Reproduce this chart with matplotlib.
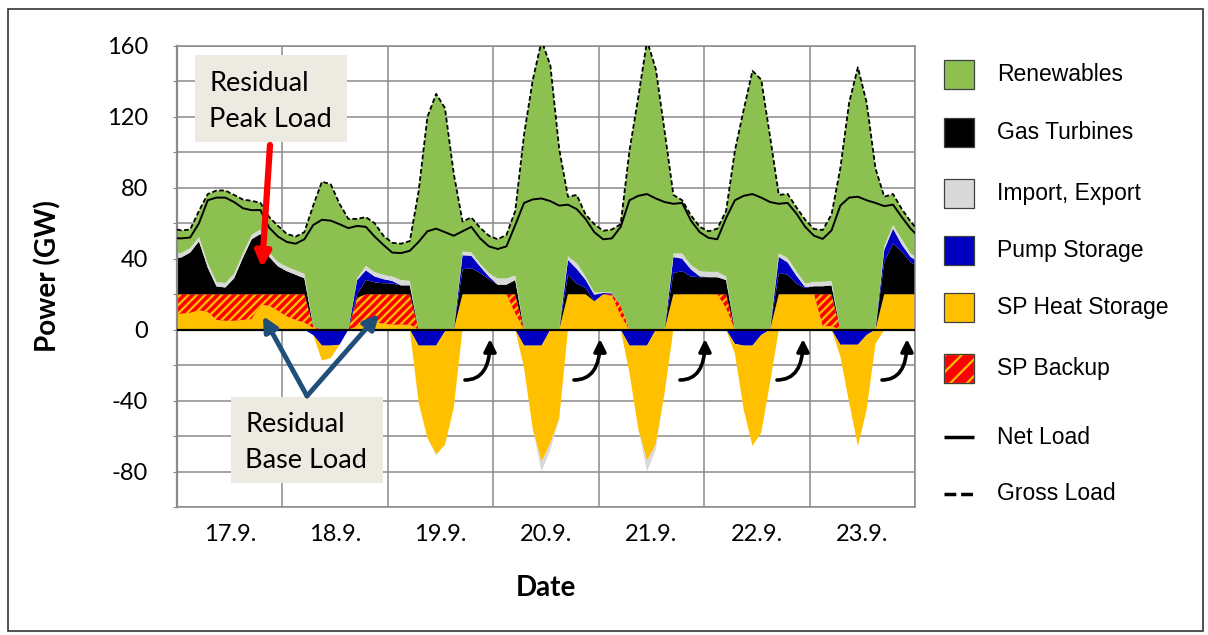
import numpy as np
import matplotlib
matplotlib.use("Agg")
import matplotlib.pyplot as plt
from matplotlib.patches import Rectangle, FancyArrowPatch
from matplotlib.lines import Line2D

plt.rcParams["hatch.linewidth"] = 1.6
plt.rcParams["hatch.color"] = "#FFC000"

W, H = 1208, 635

# ---------------------------------------------------------------- data
day_labels = ["17.9.", "18.9.", "19.9.", "20.9.", "21.9.", "22.9.", "23.9."]

# sample times in hours from 17.9. 00:00 (odd hours plus both ends)
hours = [0] + list(range(1, 168, 2)) + [168]

gross_load = [56.5,
    56, 56.5, 67, 76.5, 78.5, 78.5, 76, 73.4, 72.7, 71.5, 63.5, 58.5,
    54, 52.5, 55, 70, 83.5, 82, 71, 62.5, 62.5, 63.5, 60, 53,
    49, 48.5, 50, 78, 120, 133, 125, 88, 61, 63.3, 57.5, 53,
    51, 53.5, 67, 110, 141, 163, 149, 102, 75, 76, 65, 59.5,
    55.8, 56.5, 59.5, 101, 131, 163, 147, 112, 76, 73, 64.5, 58,
    55.5, 57, 67, 101, 124, 146, 141, 109, 76, 76.6, 69, 62,
    56.8, 56.2, 65, 91, 128, 148, 128, 91, 75, 76.5, 68, 61,
    58]

net_load = [51.6,
    51.5, 52, 60, 73, 74.5, 74.5, 72, 68.5, 67.4, 67.5, 57.5, 52.5,
    49.5, 48.5, 51, 59, 62, 61.5, 59.5, 57.3, 58.5, 58, 52.5, 47.8,
    43.5, 43.2, 44.5, 49.5, 55.5, 57, 55, 53, 55.5, 58, 51.5, 47,
    45.5, 47, 59, 71.5, 73.5, 74, 72.5, 70, 70.5, 68, 62.5, 55,
    51, 51.5, 58, 73, 75.5, 76.5, 74, 72, 71, 71.5, 61.5, 55,
    51.8, 51, 63, 73, 75.5, 76.5, 74.5, 72, 71, 71.5, 65.5, 58,
    53, 51.2, 56, 70, 74.5, 75, 73, 71.5, 69.7, 70.5, 63.5, 57,
    54.5]

# generation side (GW, >= 0)
heat_storage_out = [9,
    9, 9.5, 11, 10, 5.5, 5, 5, 5.5, 6, 14, 13.5, 10.7,
    7.5, 5.5, 4, 1, 0, 0, 0, 0, 2, 3.5, 4, 3.5,
    2.8, 2.8, 2.8, 0, 0, 0, 0, 0, 20, 20, 20, 20,
    20, 20, 9, 0, 0, 0, 0, 0, 20, 20, 20, 16,
    20, 19, 7.7, 0, 0, 0, 0, 0, 20, 20, 20, 20,
    20, 20, 12, 0, 0, 0, 0, 0, 20, 20, 20, 20,
    20, 2, 2, 0, 0, 0, 0, 0, 20, 20, 20, 20,
    20]

sp_backup = [11,
    11, 10.5, 9, 10, 14.5, 15, 15, 14.5, 14, 6, 6.5, 9.3,
    12.5, 14.5, 16, 1, 0, 0, 0, 0, 16, 16.5, 16, 16.5,
    17.2, 17.2, 17.2, 0, 0, 0, 0, 0, 0, 0, 0, 0,
    0, 0, 11, 0, 0, 0, 0, 0, 0, 0, 0, 0,
    0, 1, 6.2, 0, 0, 0, 0, 0, 0, 0, 0, 0,
    0, 0, 8, 0, 0, 0, 0, 0, 0, 0, 0, 0,
    0, 18, 18, 0, 0, 0, 0, 0, 0, 0, 0, 0,
    0]

gas_turbines = [20.4,
    20.8, 23.5, 29.8, 15, 4.4, 3.8, 9, 20.5, 31, 34, 21, 15.7,
    13, 11, 9, 0, 0, 0, 0, 0, 2, 8, 6.7, 6.2,
    6, 5, 5, 0, 0, 0, 0, 0, 14, 14.7, 12, 8.5,
    5.4, 5.4, 8, 0, 0, 0, 0, 0, 11, 6, 3.5, 0,
    0, 0, 0, 0, 0, 0, 0, 0, 12, 13, 10, 9.6,
    9.6, 9.6, 8, 0, 0, 0, 0, 0, 12, 11, 6, 3.5,
    4.5, 4.5, 5, 0, 0, 0, 0, 0, 18, 28.5, 24, 18,
    16.6]

pump_out = [0,
    0, 0, 0, 0, 0, 0, 0, 0, 0, 0, 0, 0,
    0, 0, 0, 0, 0, 0, 0, 0, 8, 5.5, 3.3, 2.3,
    1.5, 0, 0, 0, 0, 0, 0, 0, 8, 7, 3.7, 1.5,
    0, 0, 0, 0, 0, 0, 0, 0, 8.4, 8.3, 4.7, 3.7,
    0.7, 0.5, 0, 0, 0, 0, 0, 0, 9, 7, 4, 0.5,
    0, 0, 0, 0, 0, 0, 0, 0, 9, 7, 4.5, 0.5,
    0, 0, 0, 0, 0, 0, 0, 0, 7, 8.5, 4, 3,
    2.8]

imports = [2.5,
    2.5, 2.5, 2.5, 2.5, 2.5, 2.5, 2.5, 2.5, 2.5, 2.5, 2.5, 2.5,
    2.5, 2.5, 2.5, 0, 0, 0, 0, 0, 1, 2.5, 2.5, 2.5,
    2.5, 3, 2.5, 0, 0, 0, 0, 0, 2, 2, 1.5, 2,
    3.5, 3.5, 2.5, 0, 0, 0, 0, 0, 2, 3.3, 1.8, 1.3,
    0.5, 0.5, 0, 0, 0, 0, 0, 0, 2, 3, 2.5, 3,
    3, 3, 2, 0, 0, 0, 0, 0, 2, 2.5, 2.5, 2,
    2.5, 2.5, 2.5, 0, 0, 0, 0, 0, 2, 2, 3, 2,
    2]

# consumption side (GW, <= 0)
pump_in = [0,
    0, 0, 0, 0, 0, 0, 0, 0, 0, 0, 0, 0,
    0, 0, 0, -3, -9, -9, -8.5, 0, 0, 0, 0, 0,
    0, 0, 0, -9, -9, -9, -1, 0, 0, 0, 0, 0,
    0, 0, 0, -9, -9, -9, 0, 0, 0, 0, 0, 0,
    0, 0, 0, -9, -9, -9, 0, 0, 0, 0, 0, 0,
    0, 0, 0, -8, -9, -9, -3, 0, 0, 0, 0, 0,
    0, 0, 0, -8.5, -8.5, -8.5, -3, 0, 0, 0, 0, 0,
    0]

heat_storage_in = [0,
    0, 0, 0, 0, 0, 0, 0, 0, 0, 0, 0, 0,
    0, 0, 0, 0, -8.4, -7, 0, 0, 0, 0, 0, 0,
    0, 0, 0, -32, -52, -61.4, -64, -44, 0, 0, 0, 0,
    0, 0, 0, -12.6, -47.3, -65.6, -64, -50.2, 0, 0, 0, 0,
    0, 0, 0, -15.4, -47, -65, -64.6, -35.7, 0, 0, 0, 0,
    0, 0, 0, -5.5, -36, -56.6, -55, -30, 0, 0, 0, 0,
    0, 0, 0, -6.5, -32.5, -57.2, -42, -8, 0, 0, 0, 0,
    0]

exports = [0,
    0, 0, 0, 0, 0, 0, 0, 0, 0, 0, 0, 0,
    0, 0, 0, 0, 0, 0, 0, 0, 0, 0, 0, 0,
    0, 0, 0, 0, 0, -0.5, 0, 0, 0, 0, 0, 0,
    0, 0, 0, 0, 0, -5.4, -3.6, -0.5, 0, 0, 0, 0,
    0, 0, 0, 0, 0, -6, -3, 0, 0, 0, 0, 0,
    0, 0, 0, 0, 0, 0, 0, 0, 0, 0, 0, 0,
    0, 0, 0, 0, 0, 0, 0, 0, 0, 0, 0, 0,
    0]

legend_labels = ["Renewables", "Gas Turbines", "Import, Export", "Pump Storage",
                 "SP Heat Storage", "SP Backup", "Net Load", "Gross Load"]

# ---------------------------------------------------------------- style
GREEN = "#8CC152"
BLACK = "#000000"
GREY = "#D9D9D9"
BLUE = "#0000C0"
ORANGE = "#FFC000"
RED = "#FF0000"
GRID = "#8A8A8A"
BOXFILL = "#EDEAE2"
NAVY = "#1F4E79"
CHART_FONT = ["Lato", "DejaVu Sans"]
LEGEND_FONT = ["Liberation Sans", "DejaVu Sans"]

fill_styles = {
    "SP Heat Storage": dict(facecolor=ORANGE),
    "SP Backup": dict(facecolor=RED, edgecolor=ORANGE, hatch="////"),
    "Gas Turbines": dict(facecolor=BLACK),
    "Pump Storage": dict(facecolor=BLUE),
    "Import, Export": dict(facecolor=GREY),
    "Renewables": dict(facecolor=GREEN),
}

fig = plt.figure(figsize=(W / 100, H / 100), dpi=100)
ax = fig.add_axes([177 / W, 1 - 507 / H, (915 - 177) / W, (507 - 46) / H])

t = np.array(hours, dtype=float)

# positive stack
base = np.zeros_like(t)
for name, vals in [("SP Heat Storage", heat_storage_out), ("SP Backup", sp_backup),
                   ("Gas Turbines", gas_turbines), ("Pump Storage", pump_out),
                   ("Import, Export", imports)]:
    top = base + np.array(vals, dtype=float)
    ax.fill_between(t, base, top, linewidth=0, zorder=2, **fill_styles[name])
    base = top
ax.fill_between(t, base, np.array(gross_load, dtype=float), linewidth=0, zorder=2,
                **fill_styles["Renewables"])

# negative stack
base = np.zeros_like(t)
for name, vals in [("Pump Storage", pump_in), ("SP Heat Storage", heat_storage_in),
                   ("Import, Export", exports)]:
    bottom = base + np.array(vals, dtype=float)
    ax.fill_between(t, bottom, base, linewidth=0, zorder=2, **fill_styles[name])
    base = bottom

ax.axhline(0, color="black", lw=1.6, zorder=3)
ax.plot(t, net_load, color="black", lw=1.4, zorder=4)
ax.plot(t, gross_load, color="black", lw=1.3, ls=(0, (2.6, 1.4)), zorder=4)

# axes
ax.set_xlim(0, 168)
ax.set_ylim(-100, 160)
yt = list(range(-100, 161, 20))
ax.set_yticks(yt)
ax.set_yticklabels([str(v) if v % 40 == 0 else "" for v in yt],
                   fontfamily=CHART_FONT, fontsize=17)
ax.set_xticks(np.arange(12, 168, 24))
ax.set_xticklabels(day_labels, fontfamily=CHART_FONT, fontsize=17)
ax.set_xticks(np.arange(0, 169, 24), minor=True)
ax.tick_params(axis="x", which="both", length=0, pad=12)
ax.tick_params(axis="y", which="both", direction="out", length=3, color=GRID, pad=18)
ax.set_axisbelow(True)
ax.grid(True, axis="y", which="major", color=GRID, lw=1.1)
ax.grid(True, axis="x", which="minor", color=GRID, lw=1.1)
for side, sp in ax.spines.items():
    sp.set_color(GRID)
    sp.set_linewidth(1.1)
ax.spines["left"].set_linewidth(1.6)

ax.set_ylabel("Power (GW)", fontfamily=CHART_FONT, fontsize=20, fontweight="bold")
ax.yaxis.set_label_coords(-(177 - 61) / (915 - 177), 0.5)
fig.text(546 / W, 1 - 588 / H, "Date", fontfamily=CHART_FONT, fontsize=20,
         fontweight="bold", ha="center", va="center")

# outer frame
fig.add_artist(Rectangle((8 / W, 1 - 631 / H), (1203 - 8) / W, (631 - 9) / H,
                         transform=fig.transFigure, fill=False, ec="#333333", lw=1.2))


def px(x, y):
    return (x, H - y)


# annotation boxes
for (x0, y0, x1, y1), txt in [((195, 55, 347, 142), "Residual\nPeak Load"),
                              ((231, 397, 383, 483), "Residual\nBase Load")]:
    fig.add_artist(Rectangle((x0 / W, 1 - y1 / H), (x1 - x0) / W, (y1 - y0) / H,
                             transform=fig.transFigure, fc=BOXFILL, ec="none", zorder=5))
    fig.text((x0 + 14) / W, 1 - ((y0 + y1) / 2 + 3) / H, txt, fontfamily=CHART_FONT,
             fontsize=19.5, ha="left", va="center", linespacing=1.55, zorder=6)

arrow_specs = [
    ((270, 145), (262, 268), RED, 4.5, 22),
    ((307, 396), (263, 316), NAVY, 3.5, 22),
    ((307, 396), (379, 314), NAVY, 3.5, 22),
]
for (x0, y0), (x1, y1), col, lw, ms in arrow_specs:
    fig.add_artist(FancyArrowPatch(px(x0, y0), px(x1, y1), transform=None,
                                   arrowstyle="-|>", color=col, lw=lw,
                                   mutation_scale=ms, zorder=6,
                                   shrinkA=0, shrinkB=0))

# curved arrows: heat stored at noon is released in the evening
for xt, xh in [(465, 490), (574, 600), (680, 705), (777, 803), (882, 907)]:
    fig.add_artist(FancyArrowPatch(px(xt, 380), px(xh, 339), transform=None,
                                   arrowstyle="-|>", color="black", lw=2.6,
                                   mutation_scale=18, zorder=6,
                                   connectionstyle="angle3,angleA=0,angleB=90",
                                   shrinkA=0, shrinkB=0))

# legend
legend_rows = [74.5, 132.5, 193.5, 250.5, 307.5, 368.5, 437, 494]
patch_styles = [fill_styles[n] for n in legend_labels[:6]]
for i, (label, yc) in enumerate(zip(legend_labels, legend_rows)):
    if i < 6:
        st = dict(patch_styles[i])
        st.setdefault("edgecolor", "#404040")
        if "hatch" in st:
            st["hatch"] = "//"
        fig.add_artist(Rectangle((944 / W, 1 - (yc + 14.5) / H), 30 / W, 29 / H,
                                 transform=fig.transFigure, lw=0.9, **st))
        if "hatch" in st:
            fig.add_artist(Rectangle((944 / W, 1 - (yc + 14.5) / H), 30 / W, 29 / H,
                                     transform=fig.transFigure, fill=False,
                                     ec="#404040", lw=0.9))
    else:
        ls = "-" if i == 6 else (0, (3.4, 1.4))
        fig.add_artist(Line2D([944 / W, 974 / W], [1 - yc / H, 1 - yc / H],
                              transform=fig.transFigure, color="black", lw=2.5,
                              ls=ls, solid_capstyle="butt", dash_capstyle="butt"))
    fig.text(997 / W, 1 - yc / H, label, fontfamily=LEGEND_FONT, fontsize=16.5,
             ha="left", va="center")

fig.savefig("out.png", dpi=100, facecolor="white")
